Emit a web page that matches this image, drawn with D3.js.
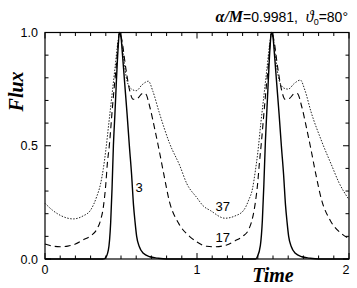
<!DOCTYPE html>
<html>
<head>
<meta charset="utf-8">
<script src="https://cdn.jsdelivr.net/npm/d3@7"></script>
<style>
  body { margin: 0; background: #fff; }
  svg { display: block; }
</style>
</head>
<body>
<div id="graph1"></div>
<script>
// flux curves, [time, flux]
const flux3 = [
  [0, 0], [0.3, 0], [0.38, 0], [0.395, 0.003], [0.417, 0.04], [0.432, 0.16], [0.441, 0.31],
  [0.45, 0.5], [0.46, 0.64], [0.47, 0.79], [0.48, 0.92], [0.49, 1.0], [0.5, 0.98], [0.51, 0.9],
  [0.525, 0.77], [0.54, 0.64], [0.555, 0.5], [0.57, 0.37], [0.582, 0.24], [0.593, 0.16],
  [0.603, 0.1], [0.62, 0.055], [0.647, 0.025], [0.69, 0.01], [0.74, 0.004], [0.8, 0], [1.0, 0],
  [1.3, 0], [1.385, 0], [1.397, 0.01], [1.417, 0.06], [1.43, 0.17], [1.44, 0.33],
  [1.45, 0.52], [1.46, 0.66], [1.47, 0.8], [1.48, 0.93], [1.49, 1.0], [1.5, 0.98], [1.51, 0.9],
  [1.525, 0.77], [1.54, 0.64], [1.555, 0.5], [1.57, 0.37], [1.582, 0.24], [1.593, 0.16],
  [1.603, 0.1], [1.62, 0.055], [1.647, 0.025], [1.69, 0.01], [1.74, 0.004], [1.8, 0], [2.0, 0]
];

const flux17 = [
  [0, 0.066], [0.05, 0.057], [0.1, 0.054], [0.15, 0.057], [0.2, 0.066], [0.25, 0.084],
  [0.296, 0.1], [0.34, 0.13], [0.365, 0.17], [0.384, 0.23], [0.4, 0.33], [0.41, 0.42],
  [0.423, 0.5], [0.445, 0.68], [0.47, 0.86], [0.49, 1.0], [0.505, 0.97], [0.53, 0.85],
  [0.555, 0.75], [0.58, 0.705], [0.61, 0.71], [0.64, 0.73], [0.66, 0.73], [0.69, 0.67],
  [0.72, 0.58], [0.745, 0.5], [0.78, 0.38], [0.82, 0.25], [0.877, 0.16], [0.954, 0.098],
  [1.0, 0.075], [1.064, 0.056], [1.12, 0.054], [1.195, 0.062], [1.25, 0.08], [1.3, 0.1],
  [1.34, 0.13], [1.365, 0.18], [1.384, 0.25], [1.4, 0.34], [1.41, 0.42],
  [1.423, 0.51], [1.445, 0.68], [1.47, 0.86], [1.49, 1.0], [1.505, 0.97], [1.53, 0.85],
  [1.555, 0.75], [1.58, 0.705], [1.61, 0.71], [1.64, 0.73], [1.66, 0.73], [1.69, 0.67],
  [1.72, 0.58], [1.745, 0.5], [1.78, 0.38], [1.82, 0.26], [1.877, 0.17], [1.954, 0.11],
  [2.0, 0.09]
];

const flux37 = [
  [0, 0.246], [0.05, 0.215], [0.1, 0.193], [0.186, 0.177], [0.25, 0.19], [0.3, 0.216],
  [0.34, 0.275], [0.365, 0.33], [0.384, 0.4], [0.4, 0.48], [0.42, 0.6], [0.44, 0.72],
  [0.46, 0.84], [0.48, 0.96], [0.49, 1.0], [0.5, 0.98], [0.515, 0.9], [0.54, 0.785],
  [0.57, 0.75], [0.6, 0.743], [0.64, 0.77], [0.68, 0.785], [0.71, 0.74], [0.75, 0.65],
  [0.82, 0.51], [0.888, 0.41], [0.932, 0.334], [1.0, 0.27], [1.04, 0.235], [1.088, 0.214],
  [1.184, 0.18], [1.25, 0.19], [1.307, 0.215], [1.34, 0.26], [1.365, 0.31], [1.384, 0.39],
  [1.4, 0.47], [1.42, 0.6], [1.44, 0.72],
  [1.46, 0.84], [1.48, 0.96], [1.49, 1.0], [1.5, 0.98], [1.515, 0.9], [1.54, 0.79],
  [1.57, 0.755], [1.6, 0.75], [1.64, 0.775], [1.68, 0.79], [1.71, 0.745], [1.75, 0.65],
  [1.82, 0.52], [1.888, 0.41], [1.932, 0.34], [2.0, 0.262]
];

const curveLabels = [
  {text: "3", t: 0.62, f: 0.32},
  {text: "37", t: 1.17, f: 0.235},
  {text: "17", t: 1.17, f: 0.095}
];

const xMajor = [0, 1, 2];
const yMajor = [0, 0.5, 1.0];

const width = 357, height = 288;
const margin = {top: 32.5, right: 8, bottom: 29, left: 45};
const innerW = width - margin.left - margin.right;
const innerH = height - margin.top - margin.bottom;

let svg = d3.select("#graph1")
  .append("svg")
  .attr("width", width)
  .attr("height", height)
  .append("g")
  .attr("transform", `translate(${margin.left}, ${margin.top})`);

let x = d3.scaleLinear().domain([0, 2]).range([0, innerW]);
let y = d3.scaleLinear().domain([0, 1]).range([innerH, 0]);

// frame
svg.append("rect")
  .attr("width", innerW).attr("height", innerH)
  .attr("fill", "none").attr("stroke", "#000").attr("stroke-width", 1.2);

// ticks all round, pointing in
const xMinor = d3.range(0, 2.001, 0.1).map(v => +v.toFixed(1));
const yMinor = d3.range(0, 1.001, 0.1).map(v => +v.toFixed(1));
const isMaj = (arr, v) => arr.some(m => Math.abs(m - v) < 1e-6);

let ticks = svg.append("g").attr("stroke", "#000").attr("stroke-width", 1);
xMinor.forEach(v => {
  let len = isMaj(xMajor, v) ? 6 : 3.5;
  ticks.append("line").attr("x1", x(v)).attr("x2", x(v)).attr("y1", innerH).attr("y2", innerH - len);
  ticks.append("line").attr("x1", x(v)).attr("x2", x(v)).attr("y1", 0).attr("y2", len);
});
yMinor.forEach(v => {
  let len = isMaj(yMajor, v) ? 6 : 3.5;
  ticks.append("line").attr("y1", y(v)).attr("y2", y(v)).attr("x1", 0).attr("x2", len);
  ticks.append("line").attr("y1", y(v)).attr("y2", y(v)).attr("x1", innerW).attr("x2", innerW - len);
});

// tick labels
svg.selectAll(".xl").data(xMajor).enter().append("text")
  .attr("x", d => d === 2 ? x(d) - 3 : x(d))
  .attr("y", innerH + 15)
  .attr("text-anchor", "middle")
  .style("font", "12.5px 'Liberation Sans', Arial, sans-serif")
  .text(d => d3.format("d")(d));

svg.selectAll(".yl").data(yMajor).enter().append("text")
  .attr("x", -7)
  .attr("y", d => y(d) + 4.5)
  .attr("text-anchor", "end")
  .style("font", "12.5px 'Liberation Sans', Arial, sans-serif")
  .text(d => d3.format(".1f")(d));

// curves
let line = d3.line()
  .x(d => x(d[0]))
  .y(d => y(d[1]))
  .curve(d3.curveMonotoneX);

svg.append("path").datum(flux37)
  .attr("d", line).attr("fill", "none").attr("stroke", "#222")
  .attr("stroke-width", 1).attr("stroke-dasharray", "1.5,1.5");

svg.append("path").datum(flux17)
  .attr("d", line).attr("fill", "none").attr("stroke", "#000")
  .attr("stroke-width", 1.1).attr("stroke-dasharray", "6,4");

svg.append("path").datum(flux3)
  .attr("d", line).attr("fill", "none").attr("stroke", "#000")
  .attr("stroke-width", 1.4);

svg.selectAll(".cl").data(curveLabels).enter().append("text")
  .attr("x", d => x(d.t))
  .attr("y", d => y(d.f) + 5)
  .attr("text-anchor", "middle")
  .style("font", "13px 'Liberation Sans', Arial, sans-serif")
  .text(d => d.text);

// axis titles
svg.append("text")
  .attr("transform", `translate(${-22}, ${innerH * 0.26}) rotate(-90)`)
  .attr("text-anchor", "middle")
  .style("font", "italic bold 20px 'Liberation Serif', 'DejaVu Serif', serif")
  .text("Flux");

svg.append("text")
  .attr("x", x(1.5))
  .attr("y", innerH + 23)
  .attr("text-anchor", "middle")
  .style("font", "italic bold 20px 'Liberation Serif', 'DejaVu Serif', serif")
  .text("Time");

// title
let title = svg.append("text")
  .attr("x", innerW - 1)
  .attr("y", -11)
  .attr("text-anchor", "end")
  .style("font", "14px 'Liberation Sans', Arial, sans-serif");
title.append("tspan").style("font", "italic bold 16px 'Liberation Serif', serif").text("α/M");
title.append("tspan").text("=0.9981,\u00a0\u00a0");
title.append("tspan").style("font", "italic 16px 'Liberation Serif', serif").text("ϑ");
title.append("tspan").attr("dy", 3).style("font-size", "9px").text("0");
title.append("tspan").attr("dy", -3).text("=80°");
</script>
</body>
</html>
